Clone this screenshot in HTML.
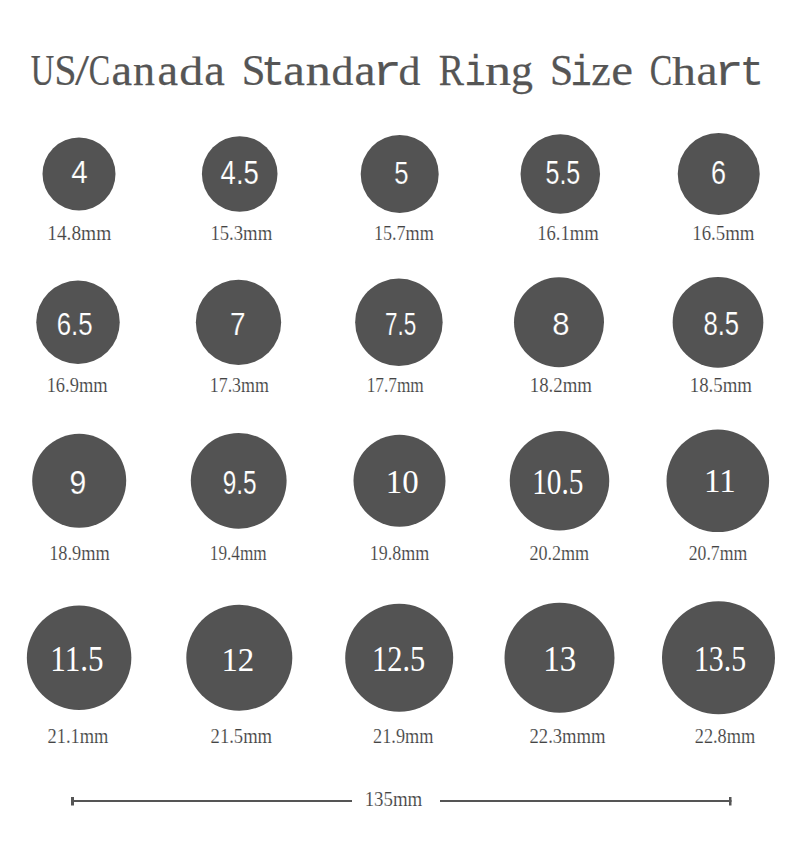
<!DOCTYPE html><html><head><meta charset="utf-8"><style>html,body{margin:0;padding:0;background:#fff;width:800px;height:857px;overflow:hidden}svg{display:block}</style></head><body>
<svg width="800" height="857" viewBox="0 0 800 857">
<rect width="800" height="857" fill="#ffffff"/>
<g stroke="#555555" stroke-width="0.25" stroke-linejoin="round">
<text transform="translate(30.7 84.75) scale(0.7419 1.0)" font-family="'Liberation Serif', serif" font-size="43.85" fill="#555555">U</text>
<text transform="translate(54.5 84.75) scale(0.9 1.0)" font-family="'Liberation Serif', serif" font-size="43.85" fill="#555555">S</text>
<text transform="translate(75.0 84.75) scale(1.1538 1.0)" font-family="'Liberation Serif', serif" font-size="43.85" fill="#555555">/</text>
<text transform="translate(88.77 84.75) scale(0.7308 1.0)" font-family="'Liberation Serif', serif" font-size="43.85" fill="#555555">C</text>
<text transform="translate(111.44 84.75) scale(1.0556 1.0)" font-family="'Liberation Serif', serif" font-size="43.85" fill="#555555">a</text>
<text transform="translate(132.9 84.75) scale(1.0 1.0)" font-family="'Liberation Serif', serif" font-size="43.85" fill="#555555">n</text>
<text transform="translate(157.54 84.75) scale(1.0556 1.0)" font-family="'Liberation Serif', serif" font-size="43.85" fill="#555555">a</text>
<text transform="translate(179.3 84.75) scale(1.0952 0.9047)" font-family="'Liberation Serif', serif" font-size="43.85" fill="#555555">d</text>
<text transform="translate(204.34 84.75) scale(1.0556 1.0)" font-family="'Liberation Serif', serif" font-size="43.85" fill="#555555">a</text>
<text transform="translate(241.76 84.75) scale(0.97 1.0)" font-family="'Liberation Serif', serif" font-size="43.85" fill="#555555">S</text>
<text transform="translate(260.96 84.75) scale(0.9474 1.0)" font-family="'Liberation Mono', monospace" font-size="42.54" fill="#555555">t</text>
<text transform="translate(283.29 84.75) scale(1.1111 1.0)" font-family="'Liberation Serif', serif" font-size="43.85" fill="#555555">a</text>
<text transform="translate(305.86 84.75) scale(1.1429 1.0)" font-family="'Liberation Serif', serif" font-size="43.85" fill="#555555">n</text>
<text transform="translate(331.5 84.75) scale(1.0 0.9047)" font-family="'Liberation Serif', serif" font-size="43.85" fill="#555555">d</text>
<text transform="translate(354.52 84.75) scale(1.0778 1.0)" font-family="'Liberation Serif', serif" font-size="43.85" fill="#555555">a</text>
<text transform="translate(372.48 84.75) scale(1.15 1.0)" font-family="'Liberation Mono', monospace" font-size="42.54" fill="#555555">r</text>
<text transform="translate(398.5 84.75) scale(1.0 0.9047)" font-family="'Liberation Serif', serif" font-size="43.85" fill="#555555">d</text>
<text transform="translate(438.64 84.75) scale(0.8621 1.0)" font-family="'Liberation Serif', serif" font-size="43.85" fill="#555555">R</text>
<text transform="translate(464.76 84.75) scale(0.8182 1.0)" font-family="'Liberation Mono', monospace" font-size="42.54" fill="#555555">i</text>
<text transform="translate(485.11 84.75) scale(1.1905 1.0)" font-family="'Liberation Serif', serif" font-size="43.85" fill="#555555">n</text>
<text transform="translate(511.0 84.75) scale(1.0 1.0)" font-family="'Liberation Serif', serif" font-size="43.85" fill="#555555">g</text>
<text transform="translate(550.0 84.75) scale(0.95 1.0)" font-family="'Liberation Serif', serif" font-size="43.85" fill="#555555">S</text>
<text transform="translate(570.66 84.75) scale(0.8182 1.0)" font-family="'Liberation Mono', monospace" font-size="42.54" fill="#555555">i</text>
<text transform="translate(591.2 84.75) scale(1.0 1.0)" font-family="'Liberation Serif', serif" font-size="43.85" fill="#555555">z</text>
<text transform="translate(611.28 84.75) scale(1.1176 1.0)" font-family="'Liberation Serif', serif" font-size="43.85" fill="#555555">e</text>
<text transform="translate(649.63 84.75) scale(0.7692 1.0)" font-family="'Liberation Serif', serif" font-size="43.85" fill="#555555">C</text>
<text transform="translate(672.0 84.75) scale(1.0909 0.9339)" font-family="'Liberation Serif', serif" font-size="43.85" fill="#555555">h</text>
<text transform="translate(696.42 84.75) scale(1.0833 1.0)" font-family="'Liberation Serif', serif" font-size="43.85" fill="#555555">a</text>
<text transform="translate(714.23 84.75) scale(1.15 1.0)" font-family="'Liberation Mono', monospace" font-size="42.54" fill="#555555">r</text>
<text transform="translate(739.66 84.75) scale(0.9474 1.0)" font-family="'Liberation Mono', monospace" font-size="42.54" fill="#555555">t</text>
</g>
<circle cx="79" cy="174" r="36.5" fill="#535353"/>
<circle cx="239.7" cy="174" r="37.8" fill="#535353"/>
<circle cx="399.7" cy="174" r="39.0" fill="#535353"/>
<circle cx="560.3" cy="174" r="39.75" fill="#535353"/>
<circle cx="718.75" cy="174" r="41.0" fill="#535353"/>
<circle cx="78" cy="322.3" r="41.75" fill="#535353"/>
<circle cx="238.5" cy="322.3" r="42.65" fill="#535353"/>
<circle cx="398.9" cy="322.3" r="43.75" fill="#535353"/>
<circle cx="559" cy="322.3" r="45.0" fill="#535353"/>
<circle cx="718" cy="322.3" r="45.35" fill="#535353"/>
<circle cx="79.2" cy="480.8" r="47.0" fill="#535353"/>
<circle cx="238.7" cy="480.8" r="47.9" fill="#535353"/>
<circle cx="399.5" cy="480.8" r="46.0" fill="#535353"/>
<circle cx="559.5" cy="480.8" r="49.75" fill="#535353"/>
<circle cx="717.8" cy="480.8" r="51.3" fill="#535353"/>
<circle cx="79.1" cy="657.8" r="52.25" fill="#535353"/>
<circle cx="239.3" cy="657.8" r="53.0" fill="#535353"/>
<circle cx="399.2" cy="657.8" r="54.0" fill="#535353"/>
<circle cx="559.5" cy="657.8" r="55.0" fill="#535353"/>
<circle cx="718.5" cy="657.8" r="56.5" fill="#535353"/>
<g stroke="#535353" stroke-width="0.2">
<text transform="translate(71.25 182.5) scale(0.9206 1)" font-family="'Liberation Sans', sans-serif" font-size="32.14" fill="#ffffff">4</text>
<text transform="translate(220.6 184.4) scale(0.809 1)" font-family="'Liberation Sans', sans-serif" font-size="34.0" fill="#ffffff">4.5</text>
<text transform="translate(394.19 183.75) scale(0.8125 1)" font-family="'Liberation Sans', sans-serif" font-size="31.67" fill="#ffffff">5</text>
<text transform="translate(545.48 184.4) scale(0.7677 1)" font-family="'Liberation Sans', sans-serif" font-size="32.61" fill="#ffffff">5.5</text>
<text transform="translate(711.08 183.75) scale(0.8188 1)" font-family="'Liberation Sans', sans-serif" font-size="33.07" fill="#ffffff">6</text>
<text transform="translate(56.69 335.25) scale(0.8062 1)" font-family="'Liberation Sans', sans-serif" font-size="32.14" fill="#ffffff">6.5</text>
<text transform="translate(230.1 335.25) scale(0.9 1)" font-family="'Liberation Sans', sans-serif" font-size="31.07" fill="#ffffff">7</text>
<text transform="translate(385.05 335.25) scale(0.7011 1)" font-family="'Liberation Sans', sans-serif" font-size="32.14" fill="#ffffff">7.5</text>
<text transform="translate(552.25 334.5) scale(1.0 1)" font-family="'Liberation Sans', sans-serif" font-size="31.07" fill="#ffffff">8</text>
<text transform="translate(703.48 335.25) scale(0.772 1)" font-family="'Liberation Sans', sans-serif" font-size="33.21" fill="#ffffff">8.5</text>
<text transform="translate(69.47 493.5) scale(0.9281 1)" font-family="'Liberation Sans', sans-serif" font-size="32.5" fill="#ffffff">9</text>
<text transform="translate(222.65 493.5) scale(0.7505 1)" font-family="'Liberation Sans', sans-serif" font-size="32.5" fill="#ffffff">9.5</text>
</g>
<g stroke="#ffffff" stroke-width="0.0">
<text transform="translate(385.73 492.6) scale(0.9573 1)" font-family="'Liberation Serif', serif" font-size="34.39" fill="#ffffff">10</text>
<text transform="translate(532.14 493.5) scale(0.8204 1)" font-family="'Liberation Serif', serif" font-size="35.76" fill="#ffffff">10.5</text>
<text transform="translate(704.04 492.1) scale(0.9802 1)" font-family="'Liberation Serif', serif" font-size="33.64" fill="#ffffff">11</text>
<text transform="translate(50.3 671.4) scale(0.8676 1)" font-family="'Liberation Serif', serif" font-size="35.83" fill="#ffffff">11.5</text>
<text transform="translate(221.39 670.5) scale(0.9545 1)" font-family="'Liberation Serif', serif" font-size="34.47" fill="#ffffff">12</text>
<text transform="translate(372.05 671.4) scale(0.8489 1)" font-family="'Liberation Serif', serif" font-size="35.83" fill="#ffffff">12.5</text>
<text transform="translate(543.17 670.85) scale(0.9444 1)" font-family="'Liberation Serif', serif" font-size="35.0" fill="#ffffff">13</text>
<text transform="translate(693.9 671.4) scale(0.8335 1)" font-family="'Liberation Serif', serif" font-size="35.83" fill="#ffffff">13.5</text>
</g>
<g stroke="#ffffff" stroke-width="0.15">
<text transform="translate(47.21 240) scale(0.8882 1)" font-family="'Liberation Serif', serif" font-size="21.82" fill="#444444">14.8mm</text>
<text transform="translate(210.39 240) scale(0.858 1)" font-family="'Liberation Serif', serif" font-size="21.82" fill="#444444">15.3mm</text>
<text transform="translate(373.92 240) scale(0.8298 1)" font-family="'Liberation Serif', serif" font-size="21.82" fill="#444444">15.7mm</text>
<text transform="translate(537.25 240) scale(0.853 1)" font-family="'Liberation Serif', serif" font-size="21.82" fill="#444444">16.1mm</text>
<text transform="translate(692.24 240) scale(0.8622 1)" font-family="'Liberation Serif', serif" font-size="21.82" fill="#444444">16.5mm</text>
<text transform="translate(46.66 392.25) scale(0.8392 1)" font-family="'Liberation Serif', serif" font-size="21.97" fill="#444444">16.9mm</text>
<text transform="translate(209.79 392.25) scale(0.8134 1)" font-family="'Liberation Serif', serif" font-size="21.97" fill="#444444">17.3mm</text>
<text transform="translate(366.71 392.25) scale(0.7868 1)" font-family="'Liberation Serif', serif" font-size="21.97" fill="#444444">17.7mm</text>
<text transform="translate(529.74 392.25) scale(0.8574 1)" font-family="'Liberation Serif', serif" font-size="21.97" fill="#444444">18.2mm</text>
<text transform="translate(689.74 392.25) scale(0.8574 1)" font-family="'Liberation Serif', serif" font-size="21.97" fill="#444444">18.5mm</text>
<text transform="translate(49.14 559.9) scale(0.8553 1)" font-family="'Liberation Serif', serif" font-size="21.44" fill="#444444">18.9mm</text>
<text transform="translate(209.8 559.9) scale(0.8026 1)" font-family="'Liberation Serif', serif" font-size="21.44" fill="#444444">19.4mm</text>
<text transform="translate(369.76 559.9) scale(0.8382 1)" font-family="'Liberation Serif', serif" font-size="21.44" fill="#444444">19.8mm</text>
<text transform="translate(529.4 559.9) scale(0.8433 1)" font-family="'Liberation Serif', serif" font-size="21.44" fill="#444444">20.2mm</text>
<text transform="translate(688.75 559.9) scale(0.8257 1)" font-family="'Liberation Serif', serif" font-size="21.44" fill="#444444">20.7mm</text>
<text transform="translate(47.5 743) scale(0.8628 1)" font-family="'Liberation Serif', serif" font-size="21.36" fill="#444444">21.1mm</text>
<text transform="translate(210.6 743) scale(0.8719 1)" font-family="'Liberation Serif', serif" font-size="21.36" fill="#444444">21.5mm</text>
<text transform="translate(373.1 743) scale(0.8543 1)" font-family="'Liberation Serif', serif" font-size="21.36" fill="#444444">21.9mm</text>
<text transform="translate(529.5 743) scale(0.8732 1)" font-family="'Liberation Serif', serif" font-size="21.36" fill="#444444">22.3mmm</text>
<text transform="translate(694.75 743) scale(0.8571 1)" font-family="'Liberation Serif', serif" font-size="21.36" fill="#444444">22.8mm</text>
<text transform="translate(364.63 806) scale(0.8749 1)" font-family="'Liberation Serif', serif" font-size="21.59" fill="#444444">135mm</text>
</g>
<rect x="71" y="800" width="281" height="2" fill="#555555"/>
<rect x="440" y="800" width="291.5" height="2" fill="#555555"/>
<rect x="71" y="797" width="3" height="8.5" fill="#555555"/>
<rect x="729" y="797" width="2.5" height="8.5" fill="#555555"/>
</svg></body></html>
